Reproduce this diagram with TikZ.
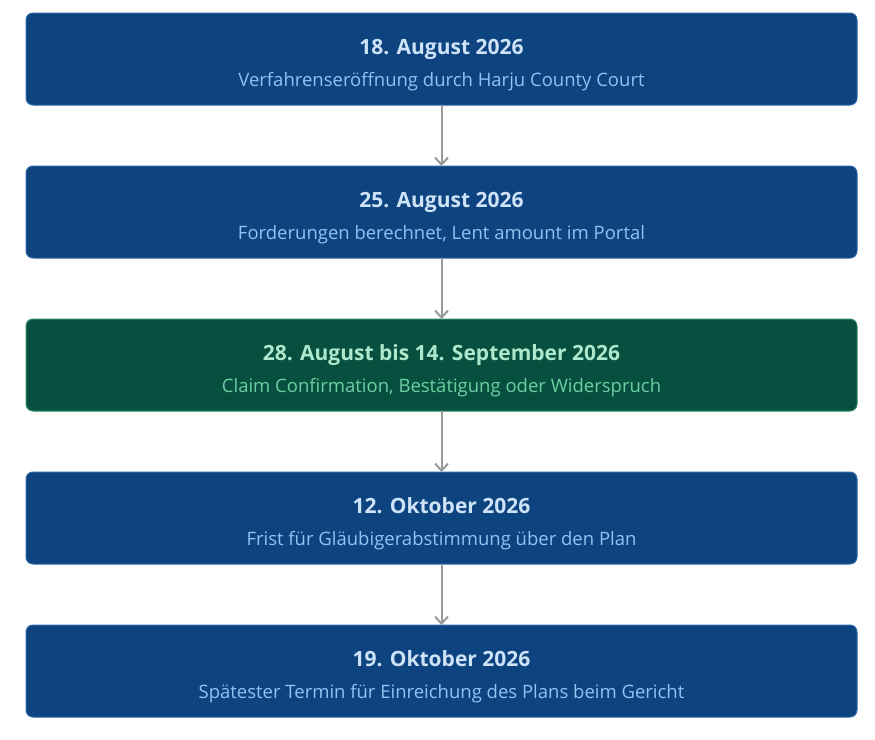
\documentclass[tikz,border=0pt]{standalone}
\usepackage{fontspec}
\setmainfont{Open Sans}
\usetikzlibrary{positioning, arrows.meta}

\definecolor{boxblue}{HTML}{0D4480}
\definecolor{lineblue}{HTML}{2A66A8}
\definecolor{headblue}{HTML}{CFE3F8}
\definecolor{subblue}{HTML}{90C2F2}
\definecolor{boxgreen}{HTML}{07503F}
\definecolor{linegreen}{HTML}{2F8A6C}
\definecolor{headgreen}{HTML}{AEE8CC}
\definecolor{subgreen}{HTML}{6CCFA2}
\definecolor{arrowgray}{HTML}{999999}

% title line, then subline; the strut keeps both lines low in the box
\newcommand{\phase}[2]{{\fontsize{21pt}{32pt}\selectfont\bfseries\rule{0pt}{28pt}#1}\\{\fontsize{18.5pt}{32pt}\selectfont #2}}

\tikzset{
    phasebox/.style={draw=lineblue, fill=boxblue, text=headblue, line width=1pt, rounded corners=7pt,
        minimum width=831pt, minimum height=92pt, align=center, inner sep=0pt, outer sep=0pt,
        font=\fontsize{18.5pt}{32pt}\selectfont},
    activebox/.style={phasebox, draw=linegreen, fill=boxgreen, text=headgreen},
    flow/.style={-{Straight Barb[length=7pt, width=13pt]}, draw=arrowgray, line width=2pt}
}

\begin{document}
\begin{tikzpicture}[node distance=61pt]
    \useasboundingbox (0,0) rectangle (875pt,-739pt);

    \node[phasebox] (opening) at (441.5pt,-59pt) {\phase{18. August 2026}{\color{subblue}Verfahrenseröffnung durch Harju County Court}};
    \node[phasebox, below=of opening] (claims) {\phase{25. August 2026}{\color{subblue}Forderungen berechnet, Lent amount im Portal}};
    \node[activebox, below=of claims] (confirm) {\phase{28. August bis 14. September 2026}{\color{subgreen}Claim Confirmation, Bestätigung oder Widerspruch}};
    \node[phasebox, below=of confirm] (vote) {\phase{12. Oktober 2026}{\color{subblue}Frist für Gläubigerabstimmung über den Plan}};
    \node[phasebox, below=of vote] (filing) {\phase{19. Oktober 2026}{\color{subblue}Spätester Termin für Einreichung des Plans beim Gericht}};

    \draw[flow] (opening) -- (claims);
    \draw[flow] (claims) -- (confirm);
    \draw[flow] (confirm) -- (vote);
    \draw[flow] (vote) -- (filing);
\end{tikzpicture}
\end{document}
